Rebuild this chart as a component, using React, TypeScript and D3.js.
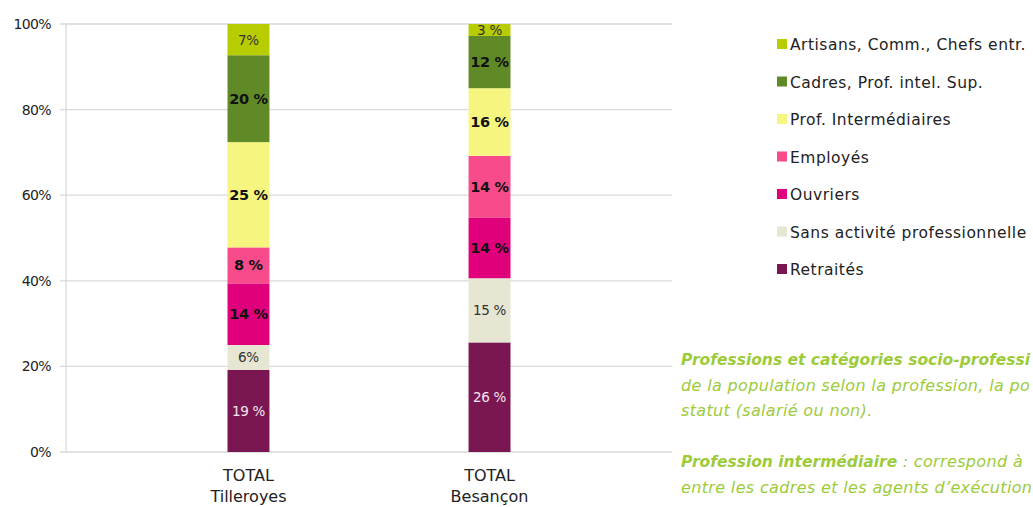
import React from "react";
import * as d3 from "d3";

const categories = ["TOTAL Tilleroyes", "TOTAL Besançon"];
const series = [
  "Retraités",
  "Sans activité professionnelle",
  "Ouvriers",
  "Employés",
  "Prof. Intermédiaires",
  "Cadres, Prof. intel. Sup.",
  "Artisans, Comm., Chefs entr.",
];
const tilleroyes = [19.2, 5.8, 14.4, 8.4, 24.6, 20.3, 7.3];
const besancon = [25.6, 15.0, 14.1, 14.5, 15.8, 12.2, 2.8];
const labelsTilleroyes = ["19 %", "6%", "14 %", "8 %", "25 %", "20 %", "7%"];
const labelsBesancon = ["26 %", "15 %", "14 %", "14 %", "16 %", "12 %", "3 %"];
const yTicks = [0, 20, 40, 60, 80, 100];
const colors = ["#7a1651", "#e6e6d2", "#e0007b", "#f84b8c", "#f5f57f", "#5f8a27", "#b8cc02"];
const labelColors = ["#f3e6ef", "#333333", "#111111", "#111111", "#111111", "#111111", "#333333"];
const labelWeights = [400, 400, 700, 700, 700, 700, 400];

const noteLines = [
  { bold: "Professions et catégories socio-professi", rest: "" },
  { bold: "", rest: "de la population selon la profession, la po" },
  { bold: "", rest: "statut (salarié ou non)." },
  { bold: "", rest: "" },
  { bold: "Profession intermédiaire", rest: " : correspond à" },
  { bold: "", rest: "entre les cadres et les agents d’exécution" },
];

export default function App() {
  const W = 1033, H = 507;
  const left = 66, right = 672, top = 24, bottom = 452;
  const values = [tilleroyes, besancon];
  const labels = [labelsTilleroyes, labelsBesancon];
  const data = categories.map((c, i) => {
    const o: any = { cat: c };
    series.forEach((s, j) => (o[s] = values[i][j]));
    return o;
  });
  const stacked = d3.stack().keys(series)(data as any);
  const x = d3.scaleBand().domain(categories).range([left, right]).paddingInner(0.826).paddingOuter(0.67);
  const y = d3.scaleLinear().domain([0, 100]).range([bottom, top]);
  const bw = x.bandwidth();
  const font = "DejaVu Sans, sans-serif";
  const green = "#9dcb3a";
  return (
    <svg width={W} height={H} style={{ position: "absolute", left: 0, top: 0, background: "#fff" }} fontFamily={font}>
      {yTicks.map((t) => (
        <g key={t}>
          <line x1={60} x2={right} y1={y(t)} y2={y(t)} stroke="#d9d9d9" strokeWidth={1.3} />
          <text x={51} y={y(t) + 5} textAnchor="end" fontSize={14} fill="#222" letterSpacing={-0.6}>
            {t}%
          </text>
        </g>
      ))}
      <line x1={left} x2={left} y1={top} y2={bottom} stroke="#d9d9d9" strokeWidth={1.3} />
      {stacked.map((layer, j) =>
        layer.map((d: any, i: number) => {
          const x0 = x(categories[i]) as number;
          const cx = x0 + bw / 2;
          const y0 = y(d[0]);
          const y1 = y(d[1]);
          return (
            <g key={j + "-" + i}>
              <rect x={x0} y={y1} width={bw} height={y0 - y1} fill={colors[j]} />
              <text
                x={cx}
                y={(y0 + y1) / 2 + 5}
                textAnchor="middle"
                fontSize={labelWeights[j] === 700 ? 14.5 : 13.5}
                fontWeight={labelWeights[j]}
                fill={labelColors[j]}
                letterSpacing={-0.3}
              >
                {labels[i][j]}
              </text>
            </g>
          );
        })
      )}
      {categories.map((c) => {
        const cx = (x(c) as number) + bw / 2;
        const parts = c.split(" ");
        return (
          <text key={c} textAnchor="middle" fontSize={16} fill="#222">
            <tspan x={cx} y={481}>{parts[0]}</tspan>
            <tspan x={cx} y={502}>{parts.slice(1).join(" ")}</tspan>
          </text>
        );
      })}
      {series
        .slice()
        .reverse()
        .map((s, k) => {
          const j = series.length - 1 - k;
          const cy = 44 + k * 37.5;
          return (
            <g key={s}>
              <rect x={777} y={cy - 5} width={10} height={10} fill={colors[j]} />
              <text x={790} y={cy + 6} fontSize={15.5} fill="#222" letterSpacing={0.5}>
                {s}
              </text>
            </g>
          );
        })}
      {noteLines.map((l, i) => (
        <text key={i} x={681} y={365 + i * 25.5} fontSize={15.5} fontStyle="italic" fill={green}>
          {l.bold && <tspan fontWeight={700}>{l.bold}</tspan>}
          {l.rest && (
            <tspan fontSize={16} letterSpacing={0.35}>
              {l.rest}
            </tspan>
          )}
        </text>
      ))}
    </svg>
  );
}
